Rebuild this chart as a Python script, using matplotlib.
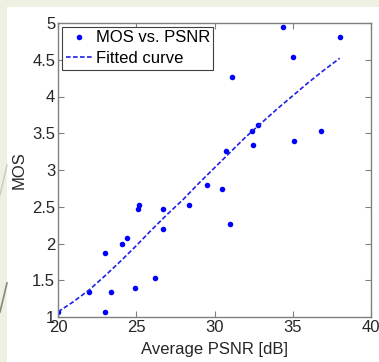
import matplotlib
matplotlib.use('Agg')
import matplotlib.pyplot as plt
from matplotlib.patches import Rectangle
from matplotlib.lines import Line2D

# Datos
psnr = [20.0, 22.0, 23.0, 23.0, 23.4, 24.1, 24.4, 24.9, 25.1, 25.2, 26.2, 26.7,
        26.7, 28.4, 29.5, 30.5, 31.0, 30.75, 31.15, 32.4, 32.45, 32.75, 34.4,
        35.0, 35.05, 36.8, 38.0]
mos = [1.07, 1.34, 1.87, 1.07, 1.34, 2.00, 2.07, 1.40, 2.47, 2.53, 1.53, 2.47,
       2.20, 2.53, 2.80, 2.74, 2.27, 3.26, 4.27, 3.53, 3.34, 3.61, 4.94,
       4.54, 3.40, 3.53, 4.81]

# Curva ajustada (valores leidos cada 1 dB)
fit_x = [20, 21, 22, 23, 24, 25, 26, 27, 28, 29, 30, 31, 32, 33, 34, 35, 36, 37, 38]
fit_y = [1.07, 1.21, 1.37, 1.56, 1.76, 1.97, 2.19, 2.40, 2.60, 2.82, 3.03, 3.24,
         3.45, 3.64, 3.83, 4.01, 4.19, 4.36, 4.52]

x_ticks = [20, 25, 30, 35, 40]
y_ticks = [1, 1.5, 2, 2.5, 3, 3.5, 4, 4.5, 5]
y_labels = ['1', '1.5', '2', '2.5', '3', '3.5', '4', '4.5', '5']

plt.rcParams['font.family'] = ['Liberation Sans', 'DejaVu Sans']
plt.rcParams['font.size'] = 12

fig = plt.figure(figsize=(3.79, 3.62), dpi=100)
fig.patch.set_facecolor('#eef0e2')
# fondo blanco de la diapositiva
fig.patches.append(Rectangle((7 / 379, 0), 1, 1 - 7 / 362, transform=fig.transFigure,
                             facecolor='white', edgecolor='none', zorder=-10))
fig.lines.append(Line2D([7 / 379, 0], [1 - 283 / 362, 1 - 312 / 362],
                        transform=fig.transFigure, color='#6b6f58', lw=1.2, alpha=0.8,
                        zorder=-5))
fig.lines.append(Line2D([7 / 379, 0], [1 - 165 / 362, 1 - 195 / 362],
                        transform=fig.transFigure, color='#c9ccb8', lw=1.0, zorder=-5))

ax = fig.add_axes([58 / 379, 45 / 362, 313 / 379, 294 / 362])
ax.set_zorder(1)
ax.plot(psnr, mos, 'o', color='#0000ff', markersize=4, markeredgewidth=0,
        label='MOS vs. PSNR')
ax.plot(fit_x, fit_y, '--', color='#2020e8', lw=1.2, dashes=(2.8, 1.4),
        label='Fitted curve')

ax.set_xlim(20, 40)
ax.set_ylim(1, 5)
ax.set_xticks(x_ticks)
ax.set_yticks(y_ticks)
ax.set_yticklabels(y_labels)
ax.tick_params(direction='in', top=True, right=True, length=4, width=0.8,
               color='#808080', labelcolor='#262626', labelsize=12, pad=2)
for s in ax.spines.values():
    s.set_color('#808080')
    s.set_linewidth(1.0)

ax.set_xlabel('Average PSNR [dB]', color='#262626', labelpad=5)
ax.set_ylabel('MOS', color='#262626', labelpad=4)

leg = ax.legend(loc='upper left', fancybox=False, framealpha=1, edgecolor='#404040',
                borderpad=0.2, handlelength=1.6, handletextpad=0.2,
                labelspacing=0.35, borderaxespad=0.25, markerscale=1.0)
leg.get_frame().set_linewidth(0.8)

fig.savefig('out.png', dpi=100, facecolor=fig.get_facecolor())
